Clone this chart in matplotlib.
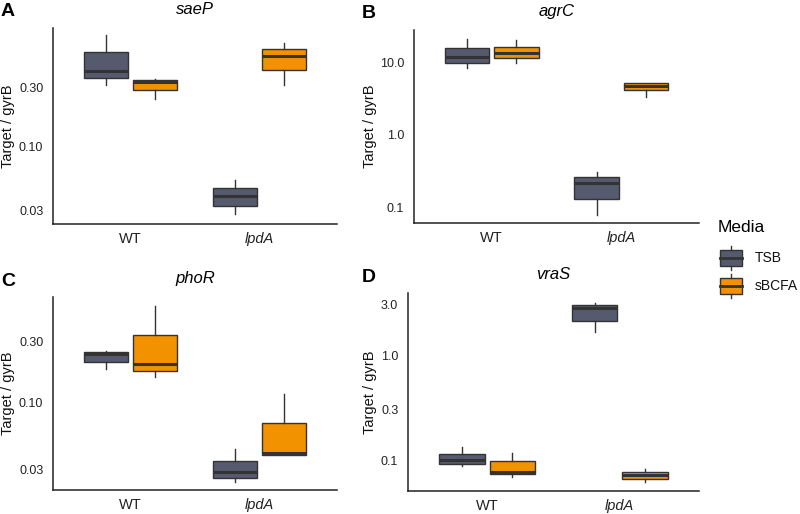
import numpy as np
import matplotlib
matplotlib.use("Agg")
import matplotlib.pyplot as plt
from matplotlib.patches import Rectangle
from matplotlib.lines import Line2D

plt.rcParams['font.family'] = ['Liberation Sans', 'DejaVu Sans']

# data: five-number summaries [whislo, q1, med, q3, whishi] for WT, lpdA
groups = ['WT', 'lpdA']
media = ['TSB', 'sBCFA']
genes = ['saeP', 'agrC', 'phoR', 'vraS']
letters = ['A', 'B', 'C', 'D']

saeP_TSB = [[0.313, 0.357, 0.41, 0.58, 0.805], [0.0282, 0.0331, 0.0396, 0.0457, 0.0531]]
saeP_sBCFA = [[0.244, 0.285, 0.336, 0.347, 0.352], [0.313, 0.414, 0.545, 0.621, 0.698]]
agrC_TSB = [[8.5, 9.9, 11.9, 15.8, 21.1], [0.078, 0.130, 0.219, 0.265, 0.311]]
agrC_sBCFA = [[9.8, 11.5, 13.7, 16.6, 20.4], [3.39, 4.15, 4.76, 5.29, 5.29]]
phoR_TSB = [[0.182, 0.207, 0.238, 0.248, 0.253], [0.0242, 0.026, 0.029, 0.0353, 0.0433]]
phoR_sBCFA = [[0.160, 0.178, 0.199, 0.337, 0.570], [0.0391, 0.0391, 0.0408, 0.069, 0.118]]
vraS_TSB = [[0.0877, 0.0916, 0.0993, 0.115, 0.132], [1.64, 2.11, 2.80, 2.99, 3.15]]
vraS_sBCFA = [[0.0694, 0.0736, 0.0774, 0.0971, 0.117], [0.0617, 0.0655, 0.0715, 0.0769, 0.0815]]

panel_data = {
    'saeP': [saeP_TSB, saeP_sBCFA],
    'agrC': [agrC_TSB, agrC_sBCFA],
    'phoR': [phoR_TSB, phoR_sBCFA],
    'vraS': [vraS_TSB, vraS_sBCFA],
}

yticks = {
    'saeP': ([0.03, 0.1, 0.3], ['0.03', '0.10', '0.30']),
    'agrC': ([0.1, 1, 10], ['0.1', '1.0', '10.0']),
    'phoR': ([0.03, 0.1, 0.3], ['0.03', '0.10', '0.30']),
    'vraS': ([0.1, 0.3, 1, 3], ['0.1', '0.3', '1.0', '3.0']),
}
ylims = {
    'saeP': (0.0235, 0.916),
    'agrC': (0.0607, 28.3),
    'phoR': (0.0209, 0.668),
    'vraS': (0.0507, 3.9),
}

colors = {'TSB': '#555a6e', 'sBCFA': '#f39200'}
edge = '#333333'

fig = plt.figure(figsize=(8, 5.14), dpi=100)

# axes boxes in pixels (left, top, right, bottom)
boxes = [(53, 28, 337, 224), (414, 30, 699, 223), (53, 297, 337, 490), (408, 293, 699, 491)]
W, H = 800, 514

for gene, letter, (l, t, r, b) in zip(genes, letters, boxes):
    ax = fig.add_axes([l / W, 1 - b / H, (r - l) / W, (b - t) / H])
    for k, m in enumerate(media):
        stats = []
        for g, s in zip(groups, panel_data[gene][k]):
            stats.append(dict(whislo=s[0], q1=s[1], med=s[2], q3=s[3], whishi=s[4], label=g))
        off = -0.19 if k == 0 else 0.19
        ax.bxp(stats, positions=np.arange(1, 3) + off, widths=0.345,
               patch_artist=True, showfliers=False, showcaps=False,
               boxprops=dict(facecolor=colors[m], edgecolor=edge, linewidth=1.0),
               medianprops=dict(color=edge, linewidth=2.2, solid_capstyle='butt'),
               whiskerprops=dict(color=edge, linewidth=1.0))
    ax.set_yscale('log')
    ax.set_ylim(*ylims[gene])
    ax.set_xlim(0.4, 2.6)
    ax.set_xticks([1, 2])
    ax.set_xticklabels(groups, fontsize=10.5, color='#222222')
    ax.get_xticklabels()[1].set_fontstyle('italic')
    ax.yaxis.set_minor_locator(matplotlib.ticker.NullLocator())
    ax.set_yticks(yticks[gene][0])
    ax.set_yticklabels(yticks[gene][1], fontsize=9, color='#222222')
    ax.tick_params(axis='y', length=0, pad=7)
    ax.tick_params(axis='x', length=0, pad=6)
    for sp in ['top', 'right']:
        ax.spines[sp].set_visible(False)
    for sp in ['left', 'bottom']:
        ax.spines[sp].set_color('#222222')
        ax.spines[sp].set_linewidth(1.1)
    ax.set_title(gene, fontsize=12, fontstyle='italic', pad=10)
    ylab_x = 8 if l < 200 else 370
    fig.text(ylab_x / W, 1 - (t + b) / 2 / H, 'Target / gyrB', rotation=90,
             ha='center', va='center', fontsize=10.5, color='#111111')
    letter_x = 1 if l < 200 else 362
    fig.text(letter_x / W, 1 - (t - 16) / H, letter, fontsize=14, fontweight='bold',
             ha='left', va='center')

# legend
fig.text(718 / W, 1 - 227 / H, 'Media', fontsize=12.5, ha='left', va='center')
lax = fig.add_axes([0, 0, 1, 1])
lax.set_xlim(0, W)
lax.set_ylim(H, 0)
lax.axis('off')
for m, yc in zip(media, [258, 286]):
    lax.add_patch(Rectangle((720, yc - 8), 22, 16, facecolor=colors[m], edgecolor=edge, linewidth=1.0))
    lax.add_line(Line2D([720, 742], [yc, yc], color=edge, linewidth=2.0))
    lax.add_line(Line2D([731, 731], [yc - 12, yc - 8], color=edge, linewidth=1.0))
    lax.add_line(Line2D([731, 731], [yc + 8, yc + 12], color=edge, linewidth=1.0))
    lax.text(755, yc, m, fontsize=10, ha='left', va='center', color='#111111')

fig.savefig('out.png', dpi=100)
